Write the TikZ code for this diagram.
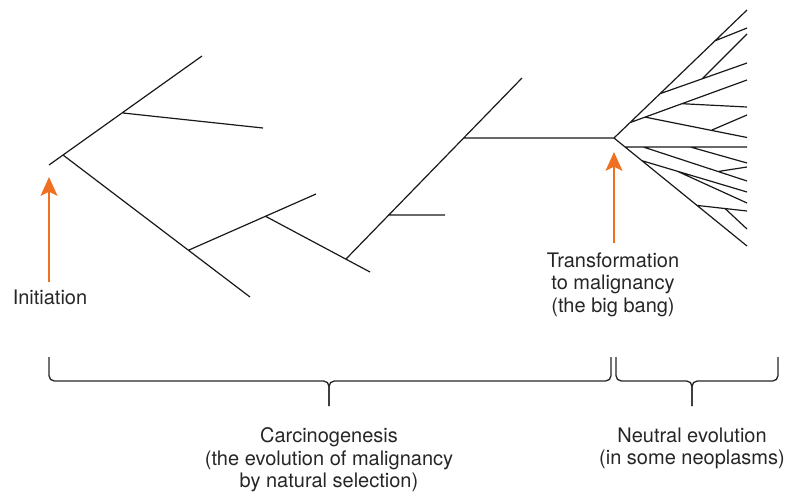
\documentclass[tikz,border=0pt]{standalone}
\usepackage{fontspec}
\setmainfont{TeX Gyre Heros}
\usetikzlibrary{arrows.meta}
\definecolor{arrorange}{RGB}{240,112,34}

\begin{document}
\begin{tikzpicture}[x=0.75pt,y=0.75pt,yscale=-1,xscale=1,
	branch/.style={line width=0.9pt, color=black!90},
	bracket/.style={line width=1pt, color=black!85, rounded corners=4pt},
	upArrow/.style={line width=1.9pt, color=arrorange, -{Stealth[length=14pt,width=12.5pt,inset=3pt]}},
	caption/.style={inner sep=0.75pt, align=center, color=black!85, font=\fontsize{15}{16.9}\selectfont}]
			\useasboundingbox (0,0) rectangle (786,494);
			
			%Left tree: points
			\coordinate (s0) at (49,165);
			\coordinate (n1) at (63,155);
			\coordinate (n2) at (123,113);
			\coordinate (t1) at (202,56);
			\coordinate (t2) at (263,128);
			\coordinate (n3) at (189,250);
			\coordinate (t3) at (250,297);
			\coordinate (n4) at (265,216);
			\coordinate (t4) at (316,194);
			\coordinate (n5) at (346,259);
			\coordinate (t5) at (370,272);
			\coordinate (n6) at (388,215);
			\coordinate (t6) at (522,78);
			\coordinate (t7) at (445,215);
			\coordinate (n7) at (464,138);
			\coordinate (bang) at (614,138);
			
			%Left tree: branches
			\draw [branch] (s0) -- (t1) (n2) -- (t2) (n1) -- (t3) (n3) -- (t4) (n4) -- (t5) (n5) -- (t6) (n6) -- (t7) (n7) -- (bang) ;
			
			%Fan: upper half
			\coordinate (u0) at (747,10);
			\coordinate (a1) at (630,122.6);
			\coordinate (a2) at (660,93.7);
			\coordinate (a3) at (715,40.8);
			\coordinate (u1) at (747,28);
			\coordinate (u2) at (747,63);
			\coordinate (b1) at (702,79);
			\coordinate (u3) at (747,34);
			\coordinate (u4) at (747,80);
			\coordinate (c1) at (645,117.1);
			\coordinate (c2) at (682,103.7);
			\coordinate (u5) at (747,107);
			\coordinate (u6) at (747,137.5);
			\coordinate (d1) at (712,130);
			\coordinate (u7) at (747,115);
			\draw [branch] (bang) -- (u0) (a3) -- (u1) (a2) -- (u2) (b1) -- (u3) (a1) -- (u4) (c2) -- (u5) (c1) -- (u6) (d1) -- (u7) ;
			
			%Fan: lower half
			\coordinate (l0) at (747,246);
			\coordinate (e1) at (625,146.9);
			\coordinate (l1) at (747,146.9);
			\coordinate (f1) at (643,146.9);
			\coordinate (l2) at (747,181);
			\coordinate (g1) at (718,171.5);
			\coordinate (l3) at (747,167);
			\coordinate (f2) at (690,146.9);
			\coordinate (l4) at (747,163);
			\coordinate (e2) at (642,160.7);
			\coordinate (l5) at (747,192);
			\coordinate (h1) at (677,171.1);
			\coordinate (l6) at (747,203);
			\coordinate (e3) at (697,205.4);
			\coordinate (l7) at (747,211);
			\coordinate (k1) at (725,208.5);
			\coordinate (l8) at (747,229);
			\draw [branch] (bang) -- (l0) (e1) -- (l1) (f1) -- (l2) (g1) -- (l3) (f2) -- (l4) (e2) -- (l5) (h1) -- (l6) (e3) -- (l7) (k1) -- (l8) ;
			
			% Text Node
			\node [caption] (initiation) at (50,297) {Initiation};
			\node [caption] (transform) at (613,284.5) {Transformation\\to malignancy\\(the big bang)};
			\node [caption] (carcino) at (329,460) {Carcinogenesis\\(the evolution of malignancy\\by natural selection)};
			\node [caption] (neutral) at (692,448.5) {Neutral evolution\\(in some neoplasms)};
			
			%Up Arrows
			\coordinate (initFoot) at (49,282);
			\coordinate (initTip) at (49,177);
			\coordinate (bangFoot) at (614,243);
			\coordinate (bangTip) at (614,152);
			\draw [upArrow] (initFoot) -- (initTip) ;
			\draw [upArrow] (bangFoot) -- (bangTip) ;
			
			%Braces
			\draw [bracket] (49,357) -- (49,381) -- (329,381) -- (329,406) ;
			\draw [bracket] (611,357) -- (611,381) -- (329,381) -- (329,406) ;
			\draw [bracket] (616,357) -- (616,381) -- (692,381) -- (692,406) ;
			\draw [bracket] (778,357) -- (778,381) -- (692,381) -- (692,406) ;
		\end{tikzpicture}
\end{document}
